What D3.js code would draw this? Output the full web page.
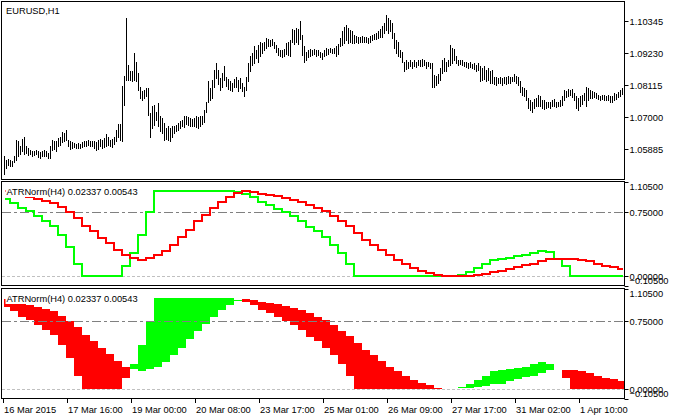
<!DOCTYPE html>
<html><head><meta charset="utf-8">
<script src="https://cdn.jsdelivr.net/npm/d3@7"></script>
<style>
body{margin:0;background:#fff}
svg{display:block}
text{font-family:"Liberation Sans",Arial,sans-serif;font-size:9.3px;fill:#000}
</style>
</head><body>
<svg id="c" width="676" height="419"></svg>
<script>
// ---- data ----
const chartTitle = "EURUSD,H1";
const indTitle = "ATRNorm(H4) 0.02337 0.00543";

const highs = [1.0563,1.0551,1.0553,1.0549,1.0545,1.0565,1.0621,1.0615,1.0598,1.0623,
1.0630,1.0598,1.0592,1.0586,1.0580,1.0580,1.0586,1.0580,1.0577,1.0580,
1.0584,1.0580,1.0574,1.0598,1.0621,1.0618,1.0615,1.0627,1.0632,1.0646,
1.0644,1.0656,1.0621,1.0615,1.0612,1.0609,1.0607,1.0609,1.0607,1.0612,
1.0615,1.0618,1.0621,1.0615,1.0618,1.0615,1.0612,1.0621,1.0623,1.0621,
1.0627,1.0642,1.0632,1.0621,1.0623,1.0632,1.0653,1.0676,1.0676,1.0809,
1.0844,1.1044,1.0882,1.0859,1.0859,1.0922,1.0893,1.0853,1.0804,1.0789,
1.0795,1.0801,1.0801,1.0714,1.0737,1.0743,1.0719,1.0748,1.0702,1.0696,
1.0679,1.0661,1.0670,1.0661,1.0670,1.0667,1.0673,1.0679,1.0685,1.0690,
1.0702,1.0702,1.0700,1.0696,1.0693,1.0696,1.0702,1.0700,1.0702,1.0704,
1.0725,1.0754,1.0824,1.0801,1.0830,1.0864,1.0888,1.0864,1.0835,1.0853,
1.0876,1.0841,1.0832,1.0824,1.0818,1.0832,1.0839,1.0830,1.0835,1.0818,
1.0806,1.0841,1.0888,1.0911,1.0922,1.0946,1.0934,1.0951,1.0960,1.0957,
1.0963,1.0975,1.0971,1.0969,1.0971,1.0963,1.0951,1.0940,1.0934,1.0932,
1.0936,1.0957,1.0963,1.0969,1.1006,1.1004,1.1009,1.1006,1.1036,1.0986,
1.0946,1.0928,1.0934,1.0936,1.0934,1.0936,1.0932,1.0934,1.0928,1.0922,
1.0934,1.0940,1.0936,1.0940,1.0936,1.0940,1.0946,1.0955,1.0975,1.0998,
1.1015,1.1021,1.1009,1.1004,1.0998,1.0986,1.0983,1.0980,1.0980,1.0983,
1.0978,1.0980,1.0975,1.0983,1.0986,1.0990,1.0992,1.0998,1.1006,1.1018,
1.1027,1.1056,1.1044,1.1038,1.1027,1.0992,1.0969,1.0963,1.0934,1.0928,
1.0893,1.0897,1.0893,1.0897,1.0893,1.0899,1.0893,1.0899,1.0897,1.0902,
1.0899,1.0893,1.0893,1.0888,1.0888,1.0847,1.0844,1.0850,1.0870,1.0899,
1.0905,1.0893,1.0899,1.0951,1.0940,1.0936,1.0911,1.0899,1.0897,1.0899,
1.0893,1.0893,1.0888,1.0890,1.0885,1.0888,1.0882,1.0888,1.0876,1.0870,
1.0876,1.0864,1.0870,1.0859,1.0864,1.0841,1.0839,1.0835,1.0838,1.0835,
1.0839,1.0841,1.0844,1.0839,1.0841,1.0850,1.0844,1.0841,1.0824,1.0804,
1.0801,1.0795,1.0766,1.0760,1.0754,1.0762,1.0766,1.0777,1.0772,1.0760,
1.0758,1.0754,1.0754,1.0754,1.0760,1.0762,1.0754,1.0754,1.0760,1.0772,
1.0795,1.0789,1.0797,1.0795,1.0797,1.0783,1.0772,1.0766,1.0772,1.0777,
1.0783,1.0804,1.0801,1.0795,1.0789,1.0786,1.0783,1.0777,1.0774,1.0777,
1.0777,1.0774,1.0777,1.0772,1.0774,1.0783,1.0781,1.0786,1.0795,1.0801];

const lows = [1.0502,1.0522,1.0534,1.0530,1.0528,1.0542,1.0549,1.0565,1.0572,1.0580,
1.0572,1.0574,1.0569,1.0572,1.0565,1.0569,1.0572,1.0560,1.0557,1.0563,
1.0565,1.0563,1.0557,1.0557,1.0586,1.0588,1.0580,1.0598,1.0603,1.0612,
1.0615,1.0621,1.0600,1.0588,1.0592,1.0595,1.0592,1.0592,1.0591,1.0594,
1.0598,1.0600,1.0602,1.0598,1.0600,1.0592,1.0586,1.0588,1.0598,1.0592,
1.0595,1.0598,1.0603,1.0598,1.0595,1.0607,1.0615,1.0632,1.0621,1.0615,
1.0743,1.0830,1.0830,1.0830,1.0824,1.0830,1.0824,1.0795,1.0766,1.0760,
1.0766,1.0772,1.0708,1.0632,1.0661,1.0673,1.0690,1.0667,1.0650,1.0644,
1.0621,1.0623,1.0621,1.0615,1.0632,1.0644,1.0650,1.0653,1.0661,1.0667,
1.0665,1.0676,1.0673,1.0670,1.0667,1.0670,1.0665,1.0661,1.0667,1.0676,
1.0681,1.0716,1.0751,1.0760,1.0766,1.0804,1.0835,1.0816,1.0795,1.0804,
1.0830,1.0809,1.0797,1.0795,1.0789,1.0804,1.0806,1.0789,1.0801,1.0789,
1.0772,1.0795,1.0824,1.0859,1.0882,1.0888,1.0905,1.0893,1.0911,1.0922,
1.0934,1.0940,1.0948,1.0946,1.0951,1.0940,1.0925,1.0917,1.0911,1.0908,
1.0911,1.0920,1.0917,1.0911,1.0960,1.0955,1.0963,1.0955,1.0971,1.0917,
1.0893,1.0899,1.0908,1.0913,1.0917,1.0920,1.0913,1.0917,1.0908,1.0902,
1.0911,1.0917,1.0920,1.0925,1.0922,1.0922,1.0911,1.0920,1.0946,1.0951,
1.0957,1.0969,1.0957,1.0963,1.0957,1.0957,1.0960,1.0957,1.0960,1.0963,
1.0960,1.0963,1.0957,1.0963,1.0969,1.0971,1.0971,1.0975,1.0978,1.0980,
1.0992,1.1004,1.0992,1.0998,1.0975,1.0940,1.0922,1.0911,1.0908,1.0893,
1.0862,1.0867,1.0870,1.0876,1.0870,1.0878,1.0874,1.0882,1.0876,1.0878,
1.0882,1.0870,1.0876,1.0870,1.0804,1.0806,1.0812,1.0820,1.0830,1.0853,
1.0862,1.0859,1.0876,1.0882,1.0888,1.0899,1.0888,1.0882,1.0885,1.0882,
1.0878,1.0874,1.0870,1.0874,1.0870,1.0867,1.0862,1.0864,1.0824,1.0830,
1.0832,1.0824,1.0830,1.0820,1.0818,1.0816,1.0812,1.0818,1.0818,1.0812,
1.0818,1.0816,1.0820,1.0818,1.0824,1.0824,1.0818,1.0812,1.0786,1.0777,
1.0772,1.0760,1.0731,1.0725,1.0716,1.0731,1.0737,1.0737,1.0739,1.0731,
1.0728,1.0731,1.0734,1.0731,1.0739,1.0739,1.0734,1.0737,1.0739,1.0743,
1.0760,1.0769,1.0772,1.0777,1.0769,1.0760,1.0731,1.0725,1.0739,1.0746,
1.0760,1.0739,1.0760,1.0766,1.0766,1.0769,1.0766,1.0762,1.0760,1.0762,
1.0760,1.0758,1.0760,1.0754,1.0754,1.0760,1.0762,1.0769,1.0774,1.0781];

// ATRNorm(H4) buffers, one value per H4 bar (4 H1 bars)
const atrRed = [0.990,0.950,0.935,0.925,0.905,0.875,0.855,0.805,0.747,0.681,
0.591,0.533,0.448,0.390,0.312,0.246,0.215,0.196,0.215,0.246,
0.300,0.370,0.456,0.545,0.642,0.719,0.797,0.867,0.925,0.971,
0.991,0.983,0.960,0.945,0.933,0.913,0.894,0.867,0.836,0.797,
0.758,0.700,0.642,0.584,0.506,0.428,0.370,0.312,0.246,0.196,
0.145,0.099,0.068,0.041,0.014,0.000,0.000,0.006,0.010,0.017,
0.029,0.052,0.060,0.091,0.107,0.130,0.145,0.177,0.204,0.207,
0.207,0.207,0.196,0.177,0.145,0.126,0.107,0.091];
const atrGreen = [0.905,0.855,0.797,0.758,0.700,0.649,0.591,0.486,0.340,0.145,
0,0,0,0,0,0.119,0.273,0.486,0.750,1.000,
1.000,1.000,1.000,1.000,1.000,1.000,1.000,1.000,1.000,0.983,
0.960,0.921,0.867,0.836,0.789,0.750,0.700,0.649,0.572,0.526,
0.456,0.370,0.273,0.145,0,0,0,0,0,0,
0,0,0,0,0,0,0,0.021,0.052,0.099,
0.145,0.196,0.207,0.215,0.235,0.246,0.273,0.293,0.280,0.207,
0.119,0,0,0,0,0,0,0];

const priceTicks = [1.10345,1.09230,1.08115,1.07000,1.05885];
const indTicks = [1.105,0.75,0,-0.105];
const indLevels = [0.75,0];
const timeLabels = ["16 Mar 2015","17 Mar 16:00","19 Mar 00:00","20 Mar 08:00","23 Mar 17:00",
  "25 Mar 01:00","26 Mar 09:00","27 Mar 17:00","31 Mar 02:00","1 Apr 10:00"];
const timeLabelBars = [-1,31,63,95,127,159,191,223,255,287];

// ---- layout ----
const svg = d3.select("#c");
const Lx = 1.5, Rx = 624.5;
const P1 = {top:1.5, bottom:179.5}, P2 = {top:181.5, bottom:285.5}, P3 = {top:288.5, bottom:398.5};
const nBars = highs.length;
const x = d3.scaleLinear().domain([0, 1]).range([4.5, 6.5]);
const yP = d3.scaleLinear().domain([1.05885, 1.10345]).range([149, 21]);
const y2 = d3.scaleLinear().domain([-0.105, 1.105]).range([P2.bottom, P2.top]);
const y3 = d3.scaleLinear().domain([-0.105, 1.105]).range([P3.bottom, P3.top]);
const fmt = d3.format(".5f");

const defs = svg.append("defs");
[["c1",P1],["c2",P2],["c3",P3]].forEach(([id,p]) => {
  defs.append("clipPath").attr("id", id).append("rect")
    .attr("x", Lx + 0.5).attr("y", p.top + 0.5).attr("width", Rx - Lx - 1).attr("height", p.bottom - p.top - 1);
});

// per-bar indicator values (each H4 value spans its 4 H1 bars)
const bars = d3.range(nBars);
const h4 = i => Math.floor((i + 1) / 4);
const redAt = i => atrRed[Math.min(h4(i), atrRed.length - 1)];
const greenAt = i => atrGreen[Math.min(h4(i), atrGreen.length - 1)];

// ---- panel 1: price bars ----
const g1 = svg.append("g").attr("clip-path", "url(#c1)");
g1.selectAll("line").data(bars).enter().append("line")
  .attr("x1", i => x(i)).attr("x2", i => x(i))
  .attr("y1", i => Math.round(yP(highs[i]))).attr("y2", i => Math.round(yP(lows[i])) + 1)
  .attr("stroke", "#000").attr("stroke-width", 1).attr("shape-rendering", "crispEdges");

// ---- levels helper ----
function drawLevels(g, y) {
  g.append("line").attr("x1", Lx).attr("x2", Rx).attr("y1", Math.round(y(0.75)) + 0.5).attr("y2", Math.round(y(0.75)) + 0.5)
    .attr("stroke", "#808080").attr("stroke-width", 1).attr("stroke-dasharray", "9,3,3,3").attr("shape-rendering", "crispEdges");
  g.append("line").attr("x1", Lx).attr("x2", Rx).attr("y1", Math.round(y(0)) + 0.5).attr("y2", Math.round(y(0)) + 0.5)
    .attr("stroke", "#c0c0c0").attr("stroke-width", 1).attr("stroke-dasharray", "3,2").attr("shape-rendering", "crispEdges");
}

// ---- panel 2: lines ----
const g2 = svg.append("g").attr("clip-path", "url(#c2)");
drawLevels(g2, y2);
const line2 = acc => d3.line().x(i => x(i)).y(i => y2(acc(i))).curve(d3.curveStep);
g2.append("path").datum(bars).attr("d", line2(greenAt)).attr("fill", "none")
  .attr("stroke", "#00ff00").attr("stroke-width", 2).attr("shape-rendering", "crispEdges");
g2.append("path").datum(bars).attr("d", line2(redAt)).attr("fill", "none")
  .attr("stroke", "#ff0000").attr("stroke-width", 2).attr("shape-rendering", "crispEdges");

// ---- panel 3: filling histogram ----
const g3 = svg.append("g").attr("clip-path", "url(#c3)");
g3.selectAll("rect").data(bars.filter(i => redAt(i) !== greenAt(i))).enter().append("rect")
  .attr("x", i => x(i) - 1).attr("width", 2)
  .attr("y", i => y3(Math.max(redAt(i), greenAt(i))))
  .attr("height", i => Math.max(1, Math.abs(y3(redAt(i)) - y3(greenAt(i)))))
  .attr("fill", i => redAt(i) > greenAt(i) ? "#ff0000" : "#00ff00")
  .attr("shape-rendering", "crispEdges");
drawLevels(g3, y3);

// ---- panel titles ----
svg.append("text").attr("x", 6).attr("y", 13.5).text(chartTitle);
[[P2, y2], [P3, y3]].forEach(([p]) => {
  const t = svg.append("text").attr("x", 6.5).attr("y", p.top + 13.5).text(indTitle);
  const bb = t.node().getBBox();
  svg.insert("rect", () => t.node()).attr("x", bb.x - 1).attr("y", bb.y).attr("width", bb.width + 2).attr("height", bb.height)
    .attr("fill", "#fff");
});

// ---- borders ----
[P1, P2, P3].forEach(p => {
  svg.append("rect").attr("x", Lx).attr("y", p.top).attr("width", Rx - Lx).attr("height", p.bottom - p.top)
    .attr("fill", "none").attr("stroke", "#000").attr("stroke-width", 1);
});

// ---- right axes ----
const ax = svg.append("g");
priceTicks.forEach(t => {
  const yy = Math.round(yP(t)) + 0.5;
  ax.append("line").attr("x1", Rx).attr("x2", Rx + 4).attr("y1", yy).attr("y2", yy).attr("stroke", "#000");
  ax.append("text").attr("x", Rx + 5).attr("y", yy + 3).text(fmt(t));
});
[[P2, y2], [P3, y3]].forEach(([p, y]) => {
  indTicks.forEach(t => {
    const yy = Math.round(y(t)) + 0.5;
    ax.append("line").attr("x1", Rx).attr("x2", Rx + 4).attr("y1", yy).attr("y2", yy).attr("stroke", "#000");
    let ty = yy + 3;
    if (t === 1.105) ty = p.top + 8.5;
    if (t === -0.105) ty = p.bottom - 1.5;
    ax.append("text").attr("x", Rx + 5).attr("y", ty).text(fmt(t));
  });
});

// ---- bottom time axis ----
timeLabelBars.forEach((b, j) => {
  const xx = Math.round(x(b)) + 0.5;
  ax.append("line").attr("x1", xx).attr("x2", xx).attr("y1", P3.bottom).attr("y2", P3.bottom + 4.5).attr("stroke", "#000");
  ax.append("text").attr("x", xx + 0.5).attr("y", 412.5).text(timeLabels[j]);
});
</script>
</body></html>
